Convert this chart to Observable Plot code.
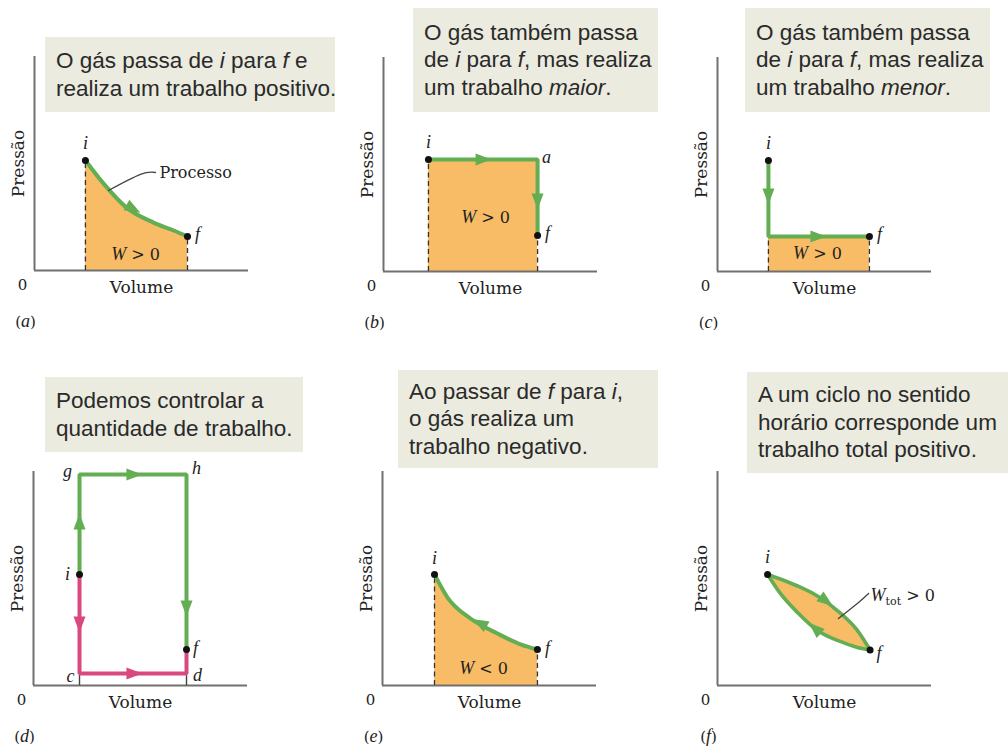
<!DOCTYPE html>
<html><head><meta charset="utf-8">
<script src="https://cdn.jsdelivr.net/npm/d3@7"></script>
<script src="https://cdn.jsdelivr.net/npm/@observablehq/plot@0.6"></script>
<style>
html,body{margin:0;padding:0;background:#fff;overflow:hidden}
#root{position:relative;width:1008px;height:746px;overflow:hidden;background:#fff}
.cap{position:absolute;background:#ebebdf;font-family:"Liberation Sans",Arial,Helvetica,sans-serif;font-size:22.5px;line-height:27.5px;color:#2a2a2a;display:flex;flex-direction:column;justify-content:center;box-sizing:border-box;padding-left:11px;white-space:nowrap;z-index:2}
.cap i{font-style:italic}
</style></head><body><div id="root"></div>
<script>
// ---------------- data ----------------
const panelLetters = ["a", "b", "c", "d", "e", "f"];
const axisX = "Volume", axisY = "Pressão", originLabel = "0";

const capA = ["O gás passa de <i>i</i> para <i>f</i> e", "realiza um trabalho positivo."];
const capB = ["O gás também passa", "de <i>i</i> para <i>f</i>, mas realiza", "um trabalho <i>maior</i>."];
const capC = ["O gás também passa", "de <i>i</i> para <i>f</i>, mas realiza", "um trabalho <i>menor</i>."];
const capD = ["Podemos controlar a", "quantidade de trabalho."];
const capE = ["Ao passar de <i>f</i> para <i>i</i>,", "o gás realiza um", "trabalho negativo."];
const capF = ["A um ciclo no sentido", "horário corresponde um", "trabalho total positivo."];

// (a) process i -> f (volume, pressure)
const aV = [2.38, 3.22, 4.30, 5.56, 6.50, 7.15];
const aP = [5.14, 4.07, 2.94, 2.24, 1.87, 1.59];
const aArrowV = [4.58], aArrowP = [2.90];
const aLeaderV = [3.46, 4.95, 5.65], aLeaderP = [3.74, 4.49, 4.58];
const aProcess = "Processo";
const aWork = "*W* > 0", aWorkV = 4.72, aWorkP = 0.75;

// (b) i -> a -> f
const bV = [2.10, 7.20, 7.20];
const bP = [5.23, 5.23, 1.68];
const bNames = ["i", "a", "f"];
const bArrowV = [4.63, 7.20], bArrowP = [5.23, 3.32];
const bWork = "*W* > 0", bWorkV = 4.77, bWorkP = 2.52;

// (c) i -> corner -> f
const cV = [2.38, 2.38, 7.10];
const cP = [5.19, 1.64, 1.64];
const cArrowV = [2.38, 4.67], cArrowP = [3.55, 1.64];
const cWork = "*W* > 0", cWorkV = 4.67, cWorkP = 0.84;

// (d) i -> g -> h -> f (green), i -> c -> d -> f (pink)
const dGreenV = [2.15, 2.15, 7.15, 7.15], dGreenP = [5.19, 9.86, 9.86, 1.68];
const dGreenNames = ["i", "g", "h", "f"];
const dPinkV = [2.15, 2.15, 7.15, 7.15], dPinkP = [5.19, 0.56, 0.56, 1.68];
const dPinkNames = ["i", "c", "d", "f"];
const dGreenArrowV = [2.15, 4.67, 7.15], dGreenArrowP = [7.62, 9.86, 3.64];
const dPinkArrowV = [2.15, 4.67], dPinkArrowP = [2.90, 0.56];

// (e) process f -> i
const eV = [7.24, 6.45, 5.37, 4.11, 3.04, 2.43];
const eP = [1.68, 1.92, 2.43, 3.13, 4.11, 5.19];
const eArrowV = [4.58], eArrowP = [2.90];
const eWork = "*W* < 0", eWorkV = 4.72, eWorkP = 0.79;

// (f) clockwise cycle: upper i -> f, lower f -> i
const fV = [2.34, 2.90, 3.74, 4.67, 5.70, 6.50, 7.13];
const fUpperP = [5.19, 4.99, 4.65, 4.18, 3.42, 2.62, 1.66];
const fLowerP = [5.19, 4.35, 3.41, 2.57, 2.07, 1.79, 1.66];
const fUpperArrowV = [5.05], fUpperArrowP = [3.97];
const fLowerArrowV = [4.58], fLowerArrowP = [2.65];
const fLeaderV = [5.65, 6.59, 7.06], fLeaderP = [3.13, 3.88, 4.30];
const fWork = "*W*_tot_ > 0";

// ---------------- styles ----------------
const GREEN = "#63ad53", PINK = "#d9487f", ORANGE = "#f8bc66", AXIS = "#707070", INK = "#222";
const SERIF = "'DejaVu Serif', 'Liberation Serif', serif";
const LSERIF = "'Liberation Serif', 'DejaVu Serif', serif";
const root = document.getElementById("root");

const pts = (V, P, names) => V.map((v, k) => ({V: v, P: P[k], name: names ? names[k] : ""}));

function arrows(path, AV, AP) {
  return AV.map((v, k) => {
    const p = AP[k];
    let best = Infinity, dir = [1, 0];
    for (let j = 0; j < path.length - 1; j++) {
      const a = path[j], b = path[j + 1];
      const dx = b.V - a.V, dy = b.P - a.P;
      const L2 = dx * dx + dy * dy;
      let t = L2 ? ((v - a.V) * dx + (p - a.P) * dy) / L2 : 0;
      t = Math.max(0, Math.min(1, t));
      const ex = a.V + t * dx - v, ey = a.P + t * dy - p;
      const d = ex * ex + ey * ey;
      if (d < best - 1e-9) { best = d; dir = [dx, dy]; }
    }
    return {V: v, P: p, rot: Math.atan2(dir[0], dir[1]) * 180 / Math.PI};
  });
}

// arrowhead symbol: about 16px long and 12px wide
const arrowHead = {draw(ctx) {
  ctx.moveTo(0, -9); ctx.lineTo(6, 7); ctx.lineTo(-6, 7); ctx.closePath();
}};
const arrowMark = (data, color) => Plot.dot(data, {x: "V", y: "P", rotate: "rot", symbol: arrowHead, r: 6, fill: color, stroke: "none"});
const dotMark = (data) => Plot.dot(data, {x: "V", y: "P", r: 3.5, fill: "#111", stroke: "none"});
const label = (pt, dx, dy) => Plot.text([pt], {x: "V", y: "P", text: "name", dx, dy, fontFamily: LSERIF, fontStyle: "italic", fontSize: 18, textAnchor: "middle", lineAnchor: "middle"});
const work = (t, V, P) => Plot.text([{t, V, P}], {x: "V", y: "P", text: "t", fontFamily: SERIF, fontSize: 16, textAnchor: "middle", lineAnchor: "middle"});
const dashed = (data) => Plot.ruleX(data, {x: "V", y1: 0, y2: "P", stroke: "#333", strokeWidth: 1.3, strokeDasharray: "5,3.5"});
const path = (data, color, curve, w = 4) => Plot.line(data, {x: "V", y: "P", stroke: color, strokeWidth: w, curve, strokeLinejoin: "miter", strokeLinecap: "butt"});

function richText(svg) {
  svg.querySelectorAll("text").forEach(t => {
    const s = t.textContent;
    if (!/[*_]/.test(s)) return;
    while (t.firstChild) t.removeChild(t.firstChild);
    const parts = s.split(/(\*[^*]+\*|_[^_]+_)/).filter(x => x.length);
    let shifted = false;
    for (const part of parts) {
      const ts = document.createElementNS("http://www.w3.org/2000/svg", "tspan");
      if (part[0] === "*") { ts.textContent = part.slice(1, -1); ts.setAttribute("font-style", "italic"); ts.setAttribute("font-family", "Liberation Serif, serif"); ts.setAttribute("font-size", "18"); }
      else if (part[0] === "_") { ts.textContent = part.slice(1, -1); ts.setAttribute("font-size", "11"); ts.setAttribute("dy", "4"); shifted = true; }
      else { ts.textContent = part; if (shifted) { ts.setAttribute("dy", "-4"); shifted = false; } }
      t.appendChild(ts);
    }
    t.setAttribute("style", "white-space:pre");
  });
}

function makePanel(letter, ox, oy, under, over) {
  const W = 214, H = 214, mL = 34, mT = 20, mR = 80, mB = 62;
  const chart = Plot.plot({
    width: mL + W + mR, height: mT + H + mB,
    marginLeft: mL, marginRight: mR, marginTop: mT, marginBottom: mB,
    x: {domain: [0, 10], axis: null},
    y: {domain: [0, 10], axis: null},
    style: {background: "transparent", overflow: "visible", color: INK},
    marks: [
      ...under,
      Plot.ruleY([0], {stroke: AXIS, strokeWidth: 2}),
      Plot.ruleX([0], {stroke: AXIS, strokeWidth: 2}),
      ...over,
      Plot.text([{V: 0, P: 0, t: originLabel}], {x: "V", y: "P", text: "t", dx: -12, dy: 15, fontFamily: SERIF, fontSize: 15, textAnchor: "middle", lineAnchor: "middle"}),
      Plot.text([axisX], {frameAnchor: "bottom", dy: 17, text: d => d, fontFamily: SERIF, fontSize: 17, textAnchor: "middle", lineAnchor: "middle"}),
      Plot.text([axisY], {frameAnchor: "left", rotate: -90, dx: -16, text: d => d, fontFamily: SERIF, fontSize: 17, textAnchor: "middle", lineAnchor: "middle"}),
      Plot.text([`(*${letter}*)`], {frameAnchor: "bottom-left", dx: -9, dy: 52, text: d => d, fontFamily: SERIF, fontSize: 15, textAnchor: "middle", lineAnchor: "middle"})
    ]
  });
  richText(chart);
  chart.style.position = "absolute";
  chart.style.left = (ox - mL) + "px";
  chart.style.top = (oy - H - mT) + "px";
  root.appendChild(chart);
}

function caption(lines, left, top, width, height) {
  const div = document.createElement("div");
  div.className = "cap";
  Object.assign(div.style, {left: left + "px", top: top + "px", width: width + "px", height: height + "px"});
  div.innerHTML = lines.map(l => `<div>${l}</div>`).join("");
  root.appendChild(div);
}

// ---------------- panel (a) ----------------
{
  const A = pts(aV, aP, aV.map((_, k) => k === 0 ? "i" : k === aV.length - 1 ? "f" : ""));
  const Ai = A[0], Af = A[A.length - 1];
  const leader = pts(aLeaderV, aLeaderP);
  const end = leader[leader.length - 1];
  makePanel(panelLetters[0], 34, 270,
    [Plot.areaY(A, {x: "V", y: "P", fill: ORANGE, curve: "monotone-x"})],
    [dashed([Ai, Af]),
     path(A, GREEN, "monotone-x"),
     Plot.line(leader, {x: "V", y: "P", stroke: "#444", strokeWidth: 1.3, curve: "natural"}),
     Plot.text([{t: aProcess, V: end.V, P: end.P}], {x: "V", y: "P", text: "t", dx: 4, textAnchor: "start", lineAnchor: "middle", fontFamily: SERIF, fontSize: 16}),
     arrowMark(arrows(A, aArrowV, aArrowP), GREEN),
     dotMark([Ai, Af]),
     label(Ai, 0, -17), label(Af, 10, -2),
     work(aWork, aWorkV, aWorkP)]);
}
// ---------------- panel (b) ----------------
{
  const B = pts(bV, bP, bNames);
  const [Bi, Ba, Bf] = B;
  makePanel(panelLetters[1], 383, 271,
    [Plot.areaY([Bi, Ba], {x: "V", y: "P", fill: ORANGE})],
    [dashed([Bi, Bf]),
     path(B, GREEN, "linear"),
     arrowMark(arrows(B, bArrowV, bArrowP), GREEN),
     dotMark([Bi, Bf]),
     label(Bi, 0, -17), label(Ba, 9, -2), label(Bf, 10, -2),
     work(bWork, bWorkV, bWorkP)]);
}
// ---------------- panel (c) ----------------
{
  const C = pts(cV, cP, ["i", "", "f"]);
  const [Ci, Cc, Cf] = C;
  makePanel(panelLetters[2], 717, 271,
    [Plot.areaY([Cc, Cf], {x: "V", y: "P", fill: ORANGE})],
    [dashed([Cc, Cf]),
     path(C, GREEN, "linear"),
     arrowMark(arrows(C, cArrowV, cArrowP), GREEN),
     dotMark([Ci, Cf]),
     label(Ci, 0, -17), label(Cf, 10, -2),
     work(cWork, cWorkV, cWorkP)]);
}
// ---------------- panel (d) ----------------
{
  const G = pts(dGreenV, dGreenP, dGreenNames);
  const K = pts(dPinkV, dPinkP, dPinkNames);
  const [Di, Dg, Dh, Df] = G;
  const [, Dc, Dd] = K;
  makePanel(panelLetters[3], 33, 685,
    [],
    [Plot.ruleX([Dc, Dd], {x: "V", y1: 0, y2: "P", stroke: "#444", strokeWidth: 1.4}),
     path(G, GREEN, "linear"),
     path(K, PINK, "linear"),
     arrowMark(arrows(G, dGreenArrowV, dGreenArrowP), GREEN),
     arrowMark(arrows(K, dPinkArrowV, dPinkArrowP), PINK),
     dotMark([Di, Df]),
     label(Dg, -12, -3), label(Dh, 10, -6), label(Di, -12, 0), label(Df, 9, -1), label(Dc, -9, 3), label(Dd, 11, 2)]);
}
// ---------------- panel (e) ----------------
{
  const E = pts(eV, eP, eV.map((_, k) => k === 0 ? "f" : k === eV.length - 1 ? "i" : ""));
  const Ef = E[0], Ei = E[E.length - 1];
  const Esorted = E.slice().reverse();
  makePanel(panelLetters[4], 382, 685,
    [Plot.areaY(Esorted, {x: "V", y: "P", fill: ORANGE, curve: "monotone-x"})],
    [dashed([Ei, Ef]),
     path(Esorted, GREEN, "monotone-x"),
     arrowMark(arrows(E, eArrowV, eArrowP), GREEN),
     dotMark([Ei, Ef]),
     label(Ei, 0, -16), label(Ef, 10, -1),
     work(eWork, eWorkV, eWorkP)]);
}
// ---------------- panel (f) ----------------
{
  const band = fV.map((v, k) => ({V: v, lo: fLowerP[k], hi: fUpperP[k]}));
  const U = pts(fV, fUpperP);
  const L = pts(fV, fLowerP);
  const Lrev = L.slice().reverse();
  const Fi = {V: fV[0], P: fUpperP[0], name: "i"};
  const Ff = {V: fV[fV.length - 1], P: fUpperP[fV.length - 1], name: "f"};
  const leader = pts(fLeaderV, fLeaderP);
  const end = leader[leader.length - 1];
  makePanel(panelLetters[5], 717, 685,
    [Plot.areaY(band, {x: "V", y1: "lo", y2: "hi", fill: ORANGE, curve: "monotone-x"})],
    [path(U, GREEN, "monotone-x", 3.6),
     path(L, GREEN, "monotone-x", 3.6),
     Plot.line(leader, {x: "V", y: "P", stroke: "#444", strokeWidth: 1.3, curve: "natural"}),
     Plot.text([{t: fWork, V: end.V, P: end.P}], {x: "V", y: "P", text: "t", dx: 2, dy: 2, textAnchor: "start", lineAnchor: "middle", fontFamily: SERIF, fontSize: 16}),
     arrowMark(arrows(U, fUpperArrowV, fUpperArrowP), GREEN),
     arrowMark(arrows(Lrev, fLowerArrowV, fLowerArrowP), GREEN),
     dotMark([Fi, Ff]),
     label(Fi, 0, -17), label(Ff, 9, 3)]);
}

// ---------------- captions ----------------
caption(capA, 45, 37, 290, 75);
caption(capB, 413, 8, 245, 104);
caption(capC, 745, 8, 245, 104);
caption(capD, 45, 377, 258, 75);
caption(capE, 398, 370, 260, 98);
caption(capF, 747, 372, 261, 101);
</script></body></html>
